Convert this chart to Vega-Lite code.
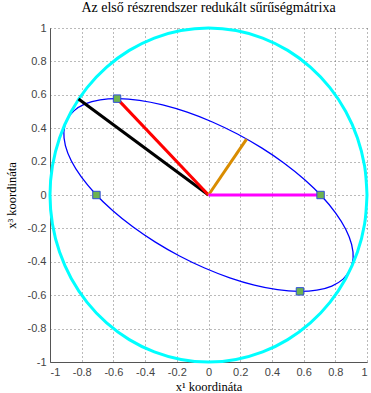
{
  "$schema": "https://vega.github.io/schema/vega-lite/v6.json",
  "autosize": "none",
  "width": 317,
  "height": 334,
  "padding": {"left": 50, "top": 28, "right": 4, "bottom": 31},
  "background": "white",
  "title": {
    "text": "Az első részrendszer redukált sűrűségmátrixa",
    "font": "Liberation Serif",
    "fontSize": 14,
    "fontWeight": "normal",
    "color": "#000",
    "anchor": "middle",
    "offset": 7
  },
  "config": {
    "view": {"stroke": null},
    "axis": {
      "labelFont": "Liberation Sans",
      "labelFontSize": 11,
      "labelColor": "#444",
      "labelOverlap": false,
      "domainColor": "#555",
      "domainWidth": 1,
      "ticks": false,
      "grid": true,
      "gridColor": "#666",
      "gridDash": [1, 3],
      "gridWidth": 1,
      "gridOpacity": 0.9,
      "titleFont": "Liberation Serif",
      "titleFontSize": 12.5,
      "titleFontWeight": "normal",
      "titleColor": "#000"
    }
  },
  "datasets": {
    "circle": [
      {"i":0,"x":1,"y":0},{"i":1,"x":0.9848,"y":0.1736},{"i":2,"x":0.9397,"y":0.342},{"i":3,"x":0.866,"y":0.5},{"i":4,"x":0.766,"y":0.6428},{"i":5,"x":0.6428,"y":0.766},{"i":6,"x":0.5,"y":0.866},{"i":7,"x":0.342,"y":0.9397},{"i":8,"x":0.1736,"y":0.9848},{"i":9,"x":0,"y":1},
      {"i":10,"x":-0.1736,"y":0.9848},{"i":11,"x":-0.342,"y":0.9397},{"i":12,"x":-0.5,"y":0.866},{"i":13,"x":-0.6428,"y":0.766},{"i":14,"x":-0.766,"y":0.6428},{"i":15,"x":-0.866,"y":0.5},{"i":16,"x":-0.9397,"y":0.342},{"i":17,"x":-0.9848,"y":0.1736},{"i":18,"x":-1,"y":0},
      {"i":19,"x":-0.9848,"y":-0.1736},{"i":20,"x":-0.9397,"y":-0.342},{"i":21,"x":-0.866,"y":-0.5},{"i":22,"x":-0.766,"y":-0.6428},{"i":23,"x":-0.6428,"y":-0.766},{"i":24,"x":-0.5,"y":-0.866},{"i":25,"x":-0.342,"y":-0.9397},{"i":26,"x":-0.1736,"y":-0.9848},{"i":27,"x":0,"y":-1},
      {"i":28,"x":0.1736,"y":-0.9848},{"i":29,"x":0.342,"y":-0.9397},{"i":30,"x":0.5,"y":-0.866},{"i":31,"x":0.6428,"y":-0.766},{"i":32,"x":0.766,"y":-0.6428},{"i":33,"x":0.866,"y":-0.5},{"i":34,"x":0.9397,"y":-0.342},{"i":35,"x":0.9848,"y":-0.1736},{"i":36,"x":1,"y":0}
    ],
    "ellipse": [
      {"i":0,"x":0.8944,"y":-0.4472},{"i":1,"x":0.9125,"y":-0.377},{"i":2,"x":0.9029,"y":-0.2953},{"i":3,"x":0.8659,"y":-0.2047},{"i":4,"x":0.8025,"y":-0.1079},{"i":5,"x":0.7148,"y":-0.0078},{"i":6,"x":0.6053,"y":0.0926},{"i":7,"x":0.4775,"y":0.1902},{"i":8,"x":0.3351,"y":0.282},{"i":9,"x":0.1826,"y":0.3651},
      {"i":10,"x":0.0245,"y":0.4372},{"i":11,"x":-0.1343,"y":0.496},{"i":12,"x":-0.2891,"y":0.5398},{"i":13,"x":-0.435,"y":0.5672},{"i":14,"x":-0.5677,"y":0.5773},{"i":15,"x":-0.6833,"y":0.5699},{"i":16,"x":-0.7781,"y":0.5451},{"i":17,"x":-0.8491,"y":0.5038},{"i":18,"x":-0.8944,"y":0.4472},
      {"i":19,"x":-0.9125,"y":0.377},{"i":20,"x":-0.9029,"y":0.2953},{"i":21,"x":-0.8659,"y":0.2047},{"i":22,"x":-0.8025,"y":0.1079},{"i":23,"x":-0.7148,"y":0.0078},{"i":24,"x":-0.6053,"y":-0.0926},{"i":25,"x":-0.4775,"y":-0.1902},{"i":26,"x":-0.3351,"y":-0.282},{"i":27,"x":-0.1826,"y":-0.3651},
      {"i":28,"x":-0.0245,"y":-0.4372},{"i":29,"x":0.1343,"y":-0.496},{"i":30,"x":0.2891,"y":-0.5398},{"i":31,"x":0.435,"y":-0.5672},{"i":32,"x":0.5677,"y":-0.5773},{"i":33,"x":0.6833,"y":-0.5699},{"i":34,"x":0.7781,"y":-0.5451},{"i":35,"x":0.8491,"y":-0.5038},{"i":36,"x":0.8944,"y":-0.4472}
    ],
    "segments": [
      {"seg":"black","x":0,"y":0,"x2":-0.82,"y2":0.575},
      {"seg":"red","x":0,"y":0,"x2":-0.577,"y2":0.577},
      {"seg":"orange","x":0,"y":0,"x2":0.24,"y2":0.335},
      {"seg":"magenta","x":0,"y":0,"x2":0.707,"y2":0}
    ],
    "markers": [
      {"x":-0.577,"y":0.577},
      {"x":-0.707,"y":0},
      {"x":0.707,"y":0},
      {"x":0.577,"y":-0.577}
    ]
  },
  "layer": [
    {
      "data": {"name": "ellipse"},
      "mark": {"type": "line", "color": "#0000ff", "strokeWidth": 1.3, "interpolate": "catmull-rom", "clip": true},
      "encoding": {
        "x": {
          "field": "x", "type": "quantitative",
          "scale": {"domain": [-1, 1], "nice": false, "zero": false},
          "axis": {
            "values": [-1,-0.8,-0.6,-0.4,-0.2,0,0.2,0.4,0.6,0.8,1],
            "tickCount": 20,
            "labelExpr": "'' + datum.value",
            "labelOverlap": false,
            "title": "x¹ koordináta",
            "titlePadding": 3,
            "labelPadding": 4
          }
        },
        "y": {
          "field": "y", "type": "quantitative",
          "scale": {"domain": [-1, 1], "nice": false, "zero": false},
          "axis": {
            "values": [-1,-0.8,-0.6,-0.4,-0.2,0,0.2,0.4,0.6,0.8,1],
            "tickCount": 20,
            "labelExpr": "'' + datum.value",
            "labelOverlap": false,
            "title": "x³ koordináta",
            "titlePadding": 9,
            "labelPadding": 4
          }
        },
        "order": {"field": "i", "type": "quantitative"}
      }
    },
    {
      "data": {"name": "circle"},
      "mark": {"type": "line", "color": "#00ffff", "strokeWidth": 3, "interpolate": "catmull-rom"},
      "encoding": {
        "x": {"field": "x", "type": "quantitative"},
        "y": {"field": "y", "type": "quantitative"},
        "order": {"field": "i", "type": "quantitative"}
      }
    },
    {
      "data": {"name": "segments"},
      "mark": {"type": "rule", "strokeWidth": 3},
      "encoding": {
        "x": {"field": "x", "type": "quantitative"},
        "y": {"field": "y", "type": "quantitative"},
        "x2": {"field": "x2"},
        "y2": {"field": "y2"},
        "color": {
          "field": "seg", "type": "nominal", "legend": null,
          "scale": {"domain": ["black","red","orange","magenta"], "range": ["#000000","#ff0000","#d98c00","#ff00ff"]}
        }
      }
    },
    {
      "data": {"name": "markers"},
      "mark": {"type": "square", "size": 55, "fill": "#6db34f", "stroke": "#2f4fd8", "strokeWidth": 1, "opacity": 1, "filled": true},
      "encoding": {
        "x": {"field": "x", "type": "quantitative"},
        "y": {"field": "y", "type": "quantitative"}
      }
    }
  ]
}
